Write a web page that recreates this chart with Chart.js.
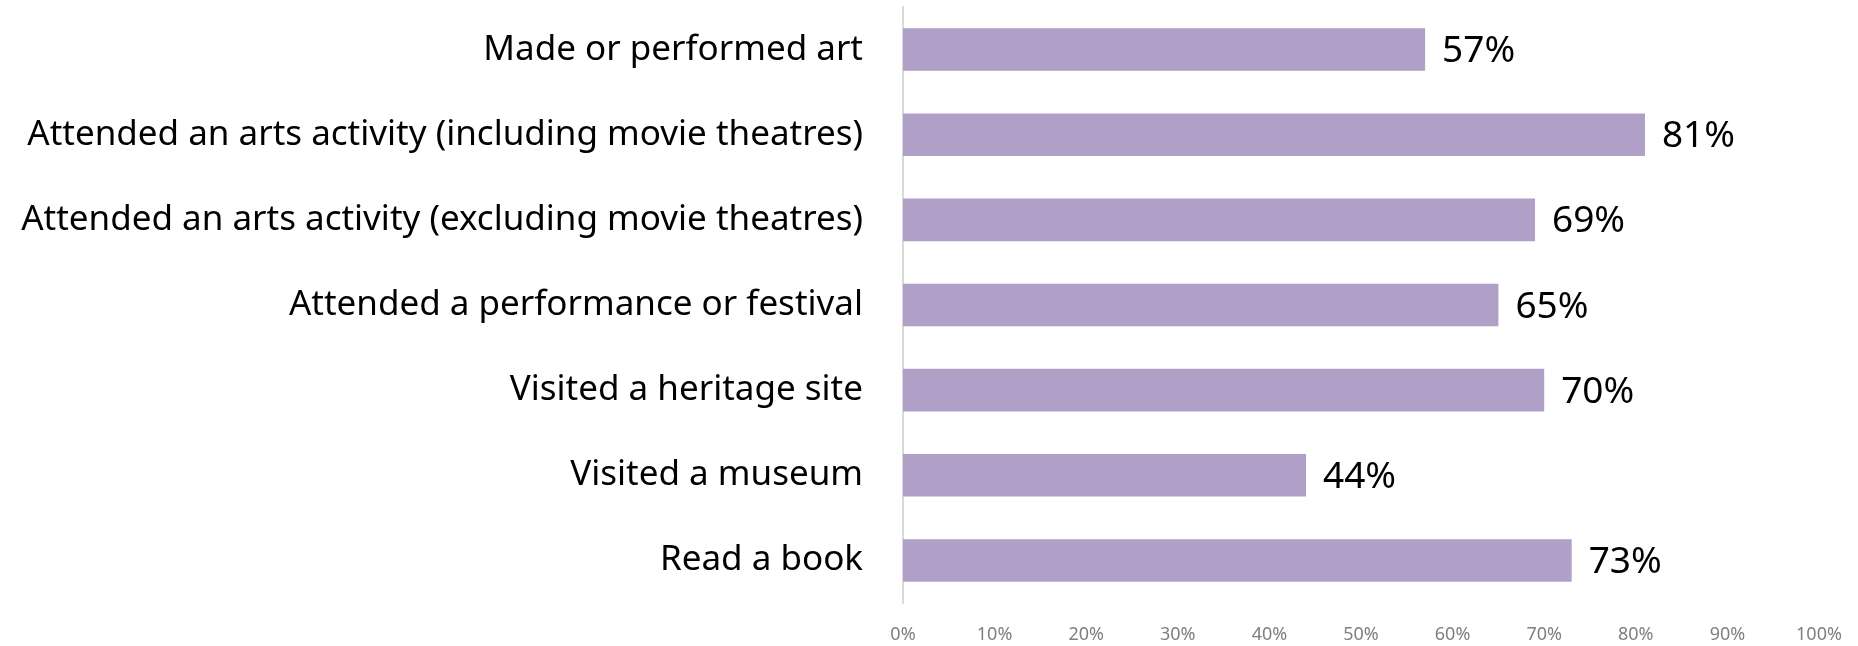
<!DOCTYPE html>
<html>
<head>
<meta charset="utf-8">
<script src="https://cdn.jsdelivr.net/npm/chart.js@4"></script>
<style>
  html, body { margin: 0; padding: 0; background: #fff; }
  #wrap { width: 1858px; height: 646px; }
</style>
</head>
<body>
<div id="wrap"><canvas id="chart"></canvas></div>
<script>
// DATA
const categories = [
    'Made or performed art',
    'Attended an arts activity (including movie theatres)',
    'Attended an arts activity (excluding movie theatres)',
    'Attended a performance or festival',
    'Visited a heritage site',
    'Visited a museum',
    'Read a book'
];
const percentages = [57, 81, 69, 65, 70, 44, 73];
const tickValues = [0, 10, 20, 30, 40, 50, 60, 70, 80, 90, 100];

const FONT = '"Noto Sans", "Open Sans", sans-serif';

// draws the value at the end of each bar
const valueLabels = {
    id: 'valueLabels',
    afterDatasetsDraw(chart) {
        const ctx = chart.ctx;
        const meta = chart.getDatasetMeta(0);
        ctx.save();
        ctx.font = '37px ' + FONT;
        ctx.fillStyle = '#000';
        ctx.textAlign = 'left';
        ctx.textBaseline = 'middle';
        meta.data.forEach((bar, i) => {
            ctx.fillText(percentages[i] + '%', bar.x + 17, bar.y + 2);
        });
        ctx.restore();
    }
};

const ctx = document.getElementById('chart').getContext('2d');
let chart = new Chart(ctx, {
    type: 'bar',
    data: {
        labels: categories,
        datasets: [{
            data: percentages,
            backgroundColor: '#b09fc7',
            categoryPercentage: 1,
            barPercentage: 0.5
        }]
    },
    options: {
        indexAxis: 'y',
        responsive: true,
        maintainAspectRatio: false,
        animation: false,
        layout: { padding: { top: 7, right: 39, left: 0, bottom: 0 } },
        plugins: {
            legend: { display: false },
            tooltip: { enabled: false }
        },
        scales: {
            y: {
                grid: { display: false, drawTicks: true, tickLength: 40 },
                border: { display: true, color: '#d9d9d9', width: 2 },
                ticks: {
                    color: '#000',
                    font: { family: FONT, size: 35 },
                    padding: 0
                },
                afterFit: (scale) => {
                    scale.width = 903;
                    scale.paddingTop = 0;
                    scale.paddingBottom = 0;
                }
            },
            x: {
                min: 0,
                max: 100,
                afterBuildTicks: (scale) => {
                    scale.ticks = tickValues.map(v => ({ value: v }));
                },
                grid: { display: false, drawTicks: false },
                border: { display: false },
                ticks: {
                    color: '#7f7f7f',
                    font: { family: FONT, size: 18 },
                    padding: 21,
                    maxRotation: 0,
                    callback: (v) => v + '%'
                },
                afterFit: (scale) => {
                    scale.height = 43;
                    scale.paddingLeft = 0;
                    scale.paddingRight = 0;
                }
            }
        }
    },
    plugins: [valueLabels]
});
</script>
</body>
</html>
